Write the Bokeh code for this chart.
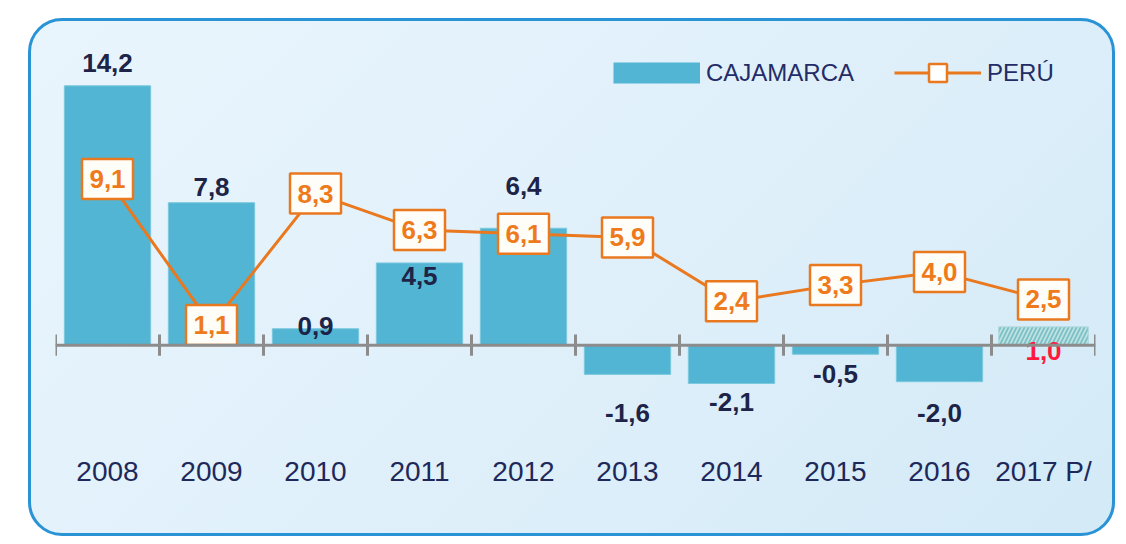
from bokeh.plotting import figure
from bokeh.models import Range1d, FactorRange, Span, Legend, LegendItem, ColumnDataSource
from bokeh.embed import file_html
from bokeh.resources import INLINE
from bokeh.core.properties import value

# ---- data ----
years = ["2008", "2009", "2010", "2011", "2012", "2013", "2014", "2015", "2016", "2017 P/"]
cajamarca = [14.2, 7.8, 0.9, 4.5, 6.4, -1.6, -2.1, -0.5, -2.0, 1.0]
peru = [9.1, 1.1, 8.3, 6.3, 6.1, 5.9, 2.4, 3.3, 4.0, 2.5]
# label anchor heights (data units) for the CAJAMARCA value labels, as placed in the original
caj_label_y = [15.45, 8.65, 1.05, 3.8, 8.7, -3.7, -3.1, -1.6, -3.7, -0.3]

def fmt(v):
    return f"{v:.1f}".replace(".", ",")

FONT = "Liberation Sans"
NAVY = "#1d2447"
ORANGE = "#e9781f"
BAR = "#52b5d3"

p = figure(width=1087, height=518, x_range=FactorRange(*years), y_range=Range1d(-5.22, 16.68),
           output_backend="svg", toolbar_location=None,
           min_border_left=27, min_border_right=20, min_border_top=22, min_border_bottom=96)
p.margin = (18, 0, 0, 28)
p.background_fill_color = None
p.border_fill_color = None
p.outline_line_color = None
p.styles = {
    "border-radius": "34px",
    "outline": "3px solid #2a93d6",
    "outline-offset": "-3px",
    "background": "linear-gradient(135deg, #e9f5fd 0%, #e0f0fa 50%, #d3eaf7 100%)",
    "overflow": "hidden",
}
p.grid.visible = False
p.yaxis.visible = False
p.xaxis.axis_line_color = None
p.xaxis.major_tick_line_color = None
p.xaxis.minor_tick_line_color = None
p.xaxis.major_label_standoff = 9
p.xaxis.major_label_text_font = FONT
p.xaxis.major_label_text_font_size = "28px"
p.xaxis.major_label_text_color = "#20285a"

n = len(years)
src = ColumnDataSource(dict(
    x=years[:-1], top=cajamarca[:-1],
    lab=[fmt(v) for v in cajamarca[:-1]], ly=caj_label_y[:-1],
))
p.vbar(x="x", top="top", bottom=0, width=0.83, source=src,
       fill_color=BAR, line_color="#7cc8de", line_width=1)
# projected year (hatched)
p.vbar(x=years[-1:], top=cajamarca[-1:], bottom=0, width=0.86,
       fill_color="#c2e4e6", line_color="#a9d6da", line_width=1,
       hatch_pattern="/", hatch_color="#7fc2c6", hatch_scale=8, hatch_weight=2)

# baseline axis with ticks at category boundaries
p.add_layout(Span(location=0, dimension="width", line_color="#8c8c8c", line_width=3))
bounds = list(range(n + 1))
p.segment(x0=bounds, x1=bounds, y0=[-0.58] * (n + 1), y1=[0.58] * (n + 1),
          line_color="#8c8c8c", line_width=3)

# CAJAMARCA value labels
p.text(x="x", y="ly", text="lab", source=src, text_align="center", text_baseline="middle",
       text_font=value(FONT), text_font_style="bold", text_font_size="26px", text_color=NAVY)
p.text(x=years[-1:], y=caj_label_y[-1:], text=[fmt(cajamarca[-1])], text_align="center",
       text_baseline="middle", text_font=value(FONT), text_font_style="bold",
       text_font_size="26px", text_color="#ff1a3d")

# PERU line with boxed labels
line = p.line(x=years, y=peru, line_color=ORANGE, line_width=3)
marker = p.scatter(x=years, y=peru, marker="square", size=17, fill_color="white",
                   line_color=ORANGE, line_width=2.5)
p.rect(x=years, y=peru, width=51, height=40, width_units="screen", height_units="screen",
       fill_color="#fffdf7", line_color=ORANGE, line_width=2.5)
p.text(x=years, y=peru, text=[fmt(v) for v in peru], text_align="center", text_baseline="middle",
       text_font=value(FONT), text_font_style="bold", text_font_size="26px", text_color="#ee7a1c")

# legend swatch for the bars (thick line, hidden in the plot itself)
bar_swatch = p.line(x=years, y=cajamarca, line_color=BAR, line_width=21, line_cap="butt")
bar_swatch.visible = False

legend = Legend(items=[LegendItem(label="CAJAMARCA", renderers=[bar_swatch]),
                       LegendItem(label="PERÚ", renderers=[line, marker])],
                orientation="horizontal", location=(558, 345),
                glyph_width=87, glyph_height=45, label_standoff=6, spacing=40,
                padding=0, margin=0, border_line_color=None, background_fill_color=None,
                label_text_font=FONT, label_text_font_size="24px", label_text_color="#232c66")
p.add_layout(legend, "center")

open("out.html", "w").write(file_html(p, INLINE))
